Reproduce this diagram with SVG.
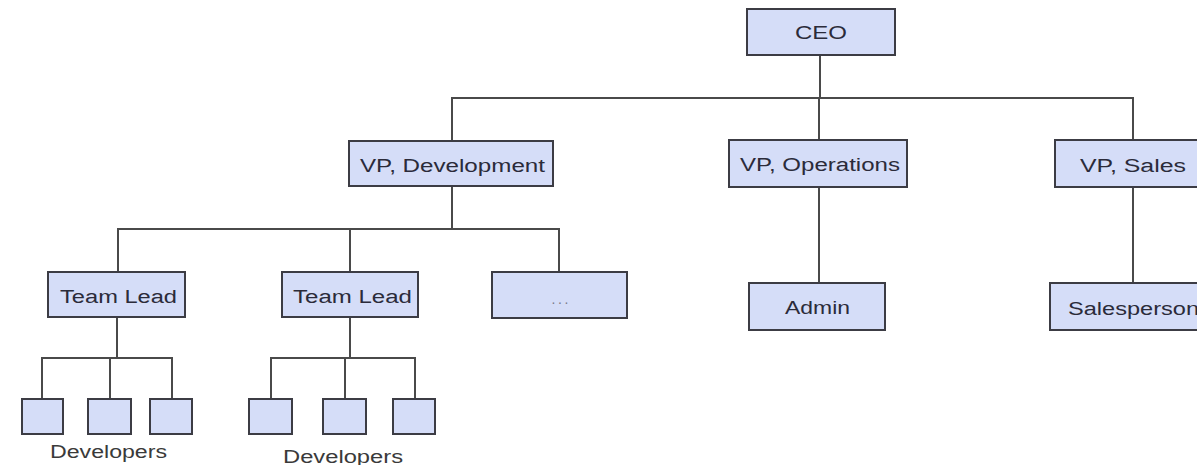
<svg xmlns="http://www.w3.org/2000/svg" width="1197" height="465" viewBox="0 0 1197 465">
<style>
.box{fill:#d5ddf8;stroke:#3c3c44;stroke-width:2}
.lbl{font-family:"Liberation Sans",Arial,sans-serif;font-size:18px;fill:#2b2b3a;text-anchor:middle}
.cap{font-family:"Liberation Sans",Arial,sans-serif;font-size:18px;fill:#3a3a3a;text-anchor:middle}
.dots{font-family:"Liberation Sans",Arial,sans-serif;font-size:14px;fill:#7a7a8a;text-anchor:middle}
.con{fill:none;stroke:#4a4a4a;stroke-width:2}
</style>
<rect width="1197" height="465" fill="#ffffff"/>
<g id="connectors" class="con">
<path d="M820 55V98M452 141V98H1133V140M819 98V140"/>
<path d="M452 186V229M118 272V229H559V272M350 229V272"/>
<path d="M117 317V358M42 399V358H172V399M110 358V399"/>
<path d="M350 317V358M271 399V358H415V399M345 358V399"/>
<path d="M819 187V283"/>
<path d="M1133 187V283"/>
</g>
<g id="ceo"><rect class="box" x="747" y="9" width="148" height="46"/><text class="lbl" x="821" y="39" textLength="52" lengthAdjust="spacingAndGlyphs">CEO</text></g>
<g id="vp-dev"><rect class="box" x="349" y="141" width="204" height="45"/><text class="lbl" x="452.5" y="172" textLength="185" lengthAdjust="spacingAndGlyphs">VP, Development</text></g>
<g id="vp-ops"><rect class="box" x="729" y="140" width="178" height="47"/><text class="lbl" x="820" y="171" textLength="160" lengthAdjust="spacingAndGlyphs">VP, Operations</text></g>
<g id="vp-sales"><rect class="box" x="1055" y="140" width="160" height="47"/><text class="lbl" x="1133" y="172" textLength="106" lengthAdjust="spacingAndGlyphs">VP, Sales</text></g>
<g id="team-lead-1"><rect class="box" x="48" y="272" width="137" height="45"/><text class="lbl" x="118.5" y="303" textLength="117" lengthAdjust="spacingAndGlyphs">Team Lead</text></g>
<g id="team-lead-2"><rect class="box" x="282" y="272" width="136" height="45"/><text class="lbl" x="352.5" y="303" textLength="119" lengthAdjust="spacingAndGlyphs">Team Lead</text></g>
<g id="more"><rect class="box" x="492" y="272" width="135" height="46"/><text class="dots" x="560" y="304" textLength="17" lengthAdjust="spacing">...</text></g>
<g id="admin"><rect class="box" x="749" y="283" width="136" height="47"/><text class="lbl" x="817.5" y="314" textLength="65" lengthAdjust="spacingAndGlyphs">Admin</text></g>
<g id="salesperson"><rect class="box" x="1050" y="283" width="165" height="47"/><text class="lbl" x="1068" y="315" style="text-anchor:start" textLength="131" lengthAdjust="spacingAndGlyphs">Salesperson</text></g>
<g id="devs-1">
<rect class="box" x="22" y="399" width="41" height="35"/>
<rect class="box" x="88" y="399" width="43" height="35"/>
<rect class="box" x="150" y="399" width="42" height="35"/>
<text class="cap" x="108.5" y="458" textLength="117" lengthAdjust="spacingAndGlyphs">Developers</text>
</g>
<g id="devs-2">
<rect class="box" x="249" y="399" width="43" height="35"/>
<rect class="box" x="323" y="399" width="43" height="35"/>
<rect class="box" x="393" y="399" width="42" height="35"/>
<text class="cap" x="343" y="463" textLength="120" lengthAdjust="spacingAndGlyphs">Developers</text>
</g>
</svg>
